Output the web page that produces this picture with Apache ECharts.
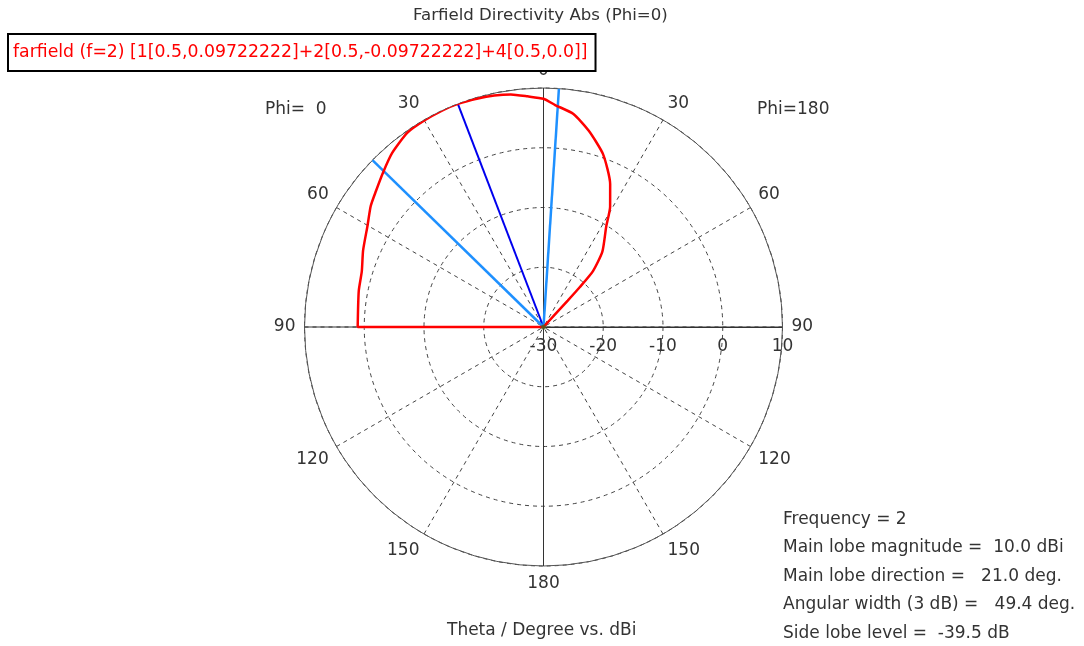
<!DOCTYPE html>
<html>
<head>
<meta charset="utf-8">
<title>Farfield Directivity Abs (Phi=0)</title>
<script src="https://cdn.jsdelivr.net/npm/echarts@6/dist/echarts.min.js"></script>
<style>
  html, body { margin: 0; padding: 0; background: #fff; }
  #myEchart { width: 1084px; height: 646px; }
</style>
</head>
<body>
<div id="myEchart"></div>
<script>
// theta in degrees, directivity in dBi (anything under -30 sits at the centre)
let phi0Theta = [180, 90, 90, 79, 73, 67, 60, 55, 51, 46, 41, 35, 30, 25, 21, 16, 12, 8, 4, 0];
let phi0Gain = [-30, -30, 1.1, 1.5, 1.8, 2.8, 4.0, 5.3, 6.1, 7.3, 8.6, 9.7, 9.9, 10.0, 10.0, 9.8, 9.6, 9.3, 8.7, 8.2];
let phi180Theta = [0, 3, 8, 13, 19, 25, 29, 32, 38, 41.5, 42.3, 42.5, 45, 180];
let phi180Gain = [8.2, 7.2, 6.0, 3.7, 0.6, -3.6, -7.0, -10.2, -14.0, -17.5, -21.0, -24.0, -30, -30];

let mainLobeTheta = [21];          // phi=0 side
let beamEdgeTheta = [45.7, -3.7];  // negative = phi=180 side

// angle ticks go 0,30,...,330 counter-clockwise from the right
let angleLabels = ['90', '60', '30', '0', '30', '60', '90', '120', '150', '180', '150', '120'];
let radiusTicks = [-30, 10, 10];   // min, max, interval

let patternName = 'farfield (f=2) [1[0.5,0.09722222]+2[0.5,-0.09722222]+4[0.5,0.0]]';
let infoLines = [
  'Frequency = 2',
  'Main lobe magnitude =  10.0 dBi',
  'Main lobe direction =   21.0 deg.',
  'Angular width (3 dB) =   49.4 deg.',
  'Side lobe level =  -39.5 dB'
];

// phi=0 half is on the left, phi=180 half on the right
function toAngle(theta, side) {
  let a = side === 180 ? 90 - theta : 90 + theta;
  return (a + 360) % 360;
}

let chart = echarts.init(document.getElementById('myEchart'));

let pattern = [];
phi0Theta.forEach((t, i) => pattern.push([phi0Gain[i], toAngle(t, 0)]));
phi180Theta.forEach((t, i) => pattern.push([phi180Gain[i], toAngle(t, 180)]));

function spoke(theta, color, width) {
  return {
    type: 'line',
    coordinateSystem: 'polar',
    silent: true,
    symbol: 'none',
    z: 3,
    lineStyle: { color: color, width: width },
    data: [[radiusTicks[0], toAngle(theta, 0)], [radiusTicks[1], toAngle(theta, 0)]]
  };
}

function axisCross(a1, a2) {
  return {
    type: 'line',
    coordinateSystem: 'polar',
    silent: true,
    symbol: 'none',
    z: 1,
    lineStyle: { color: '#333', width: 1 },
    data: [[radiusTicks[1], a1], [radiusTicks[1], a2]]
  };
}

let series = [
  axisCross(90, 270),
  axisCross(0, 180),
  {
    name: patternName,
    type: 'line',
    coordinateSystem: 'polar',
    symbol: 'none',
    smooth: 0.2,
    z: 4,
    lineStyle: { color: '#ff0000', width: 2.5 },
    itemStyle: { color: '#ff0000' },
    data: pattern
  }
];
mainLobeTheta.forEach(t => series.push(spoke(t, '#0000ee', 2)));
beamEdgeTheta.forEach(t => series.push(spoke(t, '#1e90ff', 2.5)));
series.push({
  type: 'scatter',
  coordinateSystem: 'polar',
  silent: true,
  symbolSize: 5,
  z: 6,
  itemStyle: { color: '#4b5e1e' },
  data: [[radiusTicks[0], 0]]
});

let txt = { fontFamily: 'DejaVu Sans', fontSize: 17, fontWeight: 'normal', color: '#333' };

let option = {
  backgroundColor: '#fff',
  animation: false,
  textStyle: { fontFamily: 'DejaVu Sans' },
  title: [
    { text: 'Farfield Directivity Abs (Phi=0)', left: 413, top: 7, padding: 0,
      textStyle: Object.assign({}, txt, { fontSize: 16.6 }) },
    { text: 'Phi=  0', left: 265, top: 101, padding: 0, textStyle: txt },
    { text: 'Phi=180', left: 757, top: 101, padding: 0, textStyle: txt },
    { text: 'Theta / Degree vs. dBi', left: 447, top: 622, padding: 0, textStyle: txt },
    {
      text: infoLines.join('\n'), left: 783, top: 505, padding: 0,
      textStyle: Object.assign({}, txt, { lineHeight: 28.5 })
    }
  ],
  legend: {
    data: [patternName],
    left: 8,
    top: 34,
    icon: 'none',
    itemWidth: 0,
    itemHeight: 0,
    selectedMode: false,
    padding: [10, 8, 10, 0],
    borderColor: '#000',
    borderWidth: 2,
    backgroundColor: '#fff',
    z: 10,
    textStyle: { color: '#ff0000', fontSize: 17.3, fontFamily: 'DejaVu Sans' }
  },
  polar: { center: [543.5, 327], radius: 239 },
  angleAxis: {
    type: 'value',
    min: 0,
    max: 360,
    interval: 30,
    startAngle: 0,
    clockwise: false,
    axisLine: { lineStyle: { color: '#555', width: 1 } },
    axisTick: { show: false },
    splitLine: { show: true, lineStyle: { color: '#444', width: 1, type: [4, 4] } },
    axisLabel: {
      margin: 9,
      fontSize: 17,
      color: '#333',
      formatter: v => angleLabels[Math.round(v / 30) % 12]
    }
  },
  radiusAxis: {
    type: 'value',
    min: radiusTicks[0],
    max: radiusTicks[1],
    interval: radiusTicks[2],
    axisLine: { lineStyle: { color: '#333', width: 1 } },
    axisTick: { show: false },
    splitLine: { show: true, lineStyle: { color: '#444', width: 1, type: [4, 4] } },
    axisLabel: { fontSize: 17, color: '#333', margin: -11, verticalAlign: 'top' }
  },
  series: series
};
chart.setOption(option);
window.addEventListener('resize', () => {
  chart.resize();
});
</script>
</body>
</html>
